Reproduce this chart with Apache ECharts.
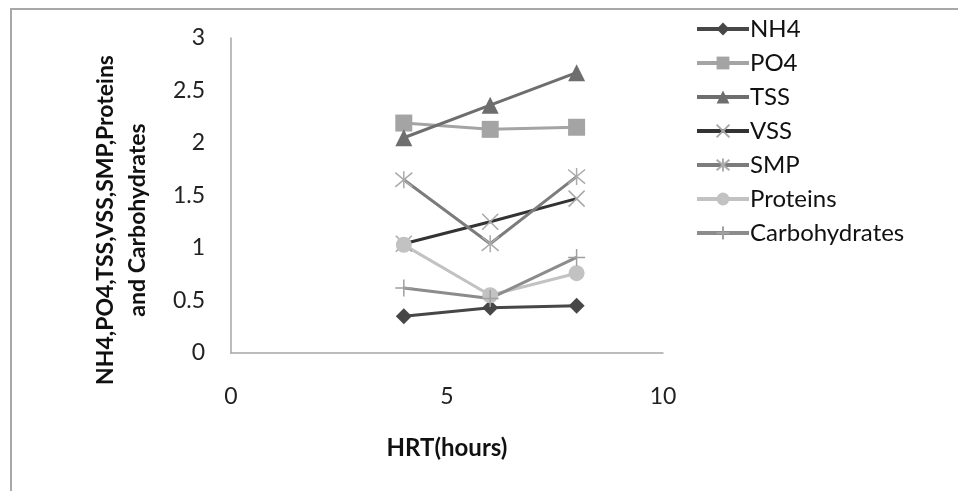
<!DOCTYPE html>
<html><head><meta charset="utf-8">
<script src="https://cdn.jsdelivr.net/npm/echarts@6/dist/echarts.min.js"></script>
<style>html,body{margin:0;padding:0;background:#fff}#c{width:958px;height:491px}</style>
</head><body><div id="c"></div>
<script>
var hrt = [4, 6, 8];
var seriesNames = ['NH4', 'PO4', 'TSS', 'VSS', 'SMP', 'Proteins', 'Carbohydrates'];
var nh4 = [0.35, 0.43, 0.45];
var po4 = [2.19, 2.13, 2.15];
var tss = [2.05, 2.36, 2.67];
var vss = [1.04, 1.25, 1.47];
var smp = [1.65, 1.04, 1.68];
var proteins = [1.03, 0.55, 0.76];
var carbohydrates = [0.62, 0.52, 0.91];
var yTicks = [0, 0.5, 1, 1.5, 2, 2.5, 3];
var xTicks = [0, 5, 10];
var yTitle = 'NH4,PO4,TSS,VSS,SMP,Proteins\nand Carbohydrates';
var xTitle = 'HRT(hours)';

var FONT = 'Lato';
var X_PATH = 'path://M0,0L10,10M10,0L0,10';
var AST_PATH = 'path://M0,0L10,10M10,0L0,10M5,-1L5,11';
var PLUS_PATH = 'path://M5,0L5,10M0,5L10,5';

function pts(vals){ return hrt.map(function(x,i){ return [x, vals[i]]; }); }

function mk(name, vals, lineColor, symbol, size, markerFill, markerStroke, bw){
  return {
    name: name, type: 'line', data: pts(vals), symbol: symbol, symbolSize: size,
    showAllSymbol: true,
    lineStyle: {color: lineColor, width: 3},
    itemStyle: {color: markerFill, borderColor: markerStroke, borderWidth: bw},
    emphasis: {disabled: true},
    animation: false
  };
}

var chart = echarts.init(document.getElementById('c'));
chart.setOption({
  backgroundColor: '#ffffff',
  animation: false,
  textStyle: {fontFamily: FONT},
  graphic: [
    {type: 'rect', shape: {x: 11, y: 9, width: 960, height: 500},
     style: {fill: 'none', stroke: '#a8a8a8', lineWidth: 2}, z: -1},
    {type: 'text', x: 122, y: 220, rotation: Math.PI/2,
     style: {text: yTitle, fontFamily: FONT, fontWeight: 'bold', fontSize: 23,
       fill: '#111', textAlign: 'center', textVerticalAlign: 'middle', lineHeight: 32}}
  ],
  grid: {left: 231, right: 295, top: 38, bottom: 138, containLabel: false},
  legend: {
    orient: 'vertical', left: 690, top: 12,
    itemWidth: 52, itemHeight: 16, itemGap: 10,
    lineStyle: {width: 4},
    textStyle: {fontFamily: FONT, fontSize: 24, color: '#111', padding: [0,0,0,-4]},
    data: seriesNames
  },
  xAxis: {
    type: 'value', min: 0, max: 10, interval: 5,
    name: xTitle, nameLocation: 'middle', nameGap: 83,
    nameTextStyle: {fontFamily: FONT, fontWeight: 'bold', fontSize: 24, color: '#111'},
    axisLine: {show: true, lineStyle: {color: '#a6a6a6', width: 1.5}},
    axisTick: {show: false},
    splitLine: {show: false},
    axisLabel: {fontFamily: FONT, fontSize: 23, color: '#222', margin: 32,
      formatter: function(v){ return xTicks.indexOf(v) >= 0 ? String(v) : ''; }}
  },
  yAxis: {
    type: 'value', min: 0, max: 3, interval: 0.5,
    axisLine: {show: true, lineStyle: {color: '#a6a6a6', width: 1.5}},
    axisTick: {show: false},
    splitLine: {show: false},
    axisLabel: {fontFamily: FONT, fontSize: 23, color: '#222', margin: 26,
      formatter: function(v){ return yTicks.indexOf(v) >= 0 ? String(v) : ''; }}
  },
  series: [
    mk('NH4', nh4, '#474747', 'diamond', 16, '#474747', '#474747', 0),
    mk('PO4', po4, '#a4a4a4', 'rect', 17, '#a4a4a4', '#a4a4a4', 0),
    mk('TSS', tss, '#6e6e6e', 'triangle', 17, '#6e6e6e', '#6e6e6e', 0),
    mk('VSS', vss, '#333333', X_PATH, 16, 'rgba(0,0,0,0)', '#a8a8a8', 1.5),
    mk('SMP', smp, '#7c7c7c', AST_PATH, 17, 'rgba(0,0,0,0)', '#ababab', 1.5),
    mk('Proteins', proteins, '#c2c2c2', 'circle', 16, '#c2c2c2', '#c2c2c2', 0),
    mk('Carbohydrates', carbohydrates, '#8c8c8c', PLUS_PATH, 17, 'rgba(0,0,0,0)', '#a0a0a0', 1.5)
  ]
});
</script></body></html>
